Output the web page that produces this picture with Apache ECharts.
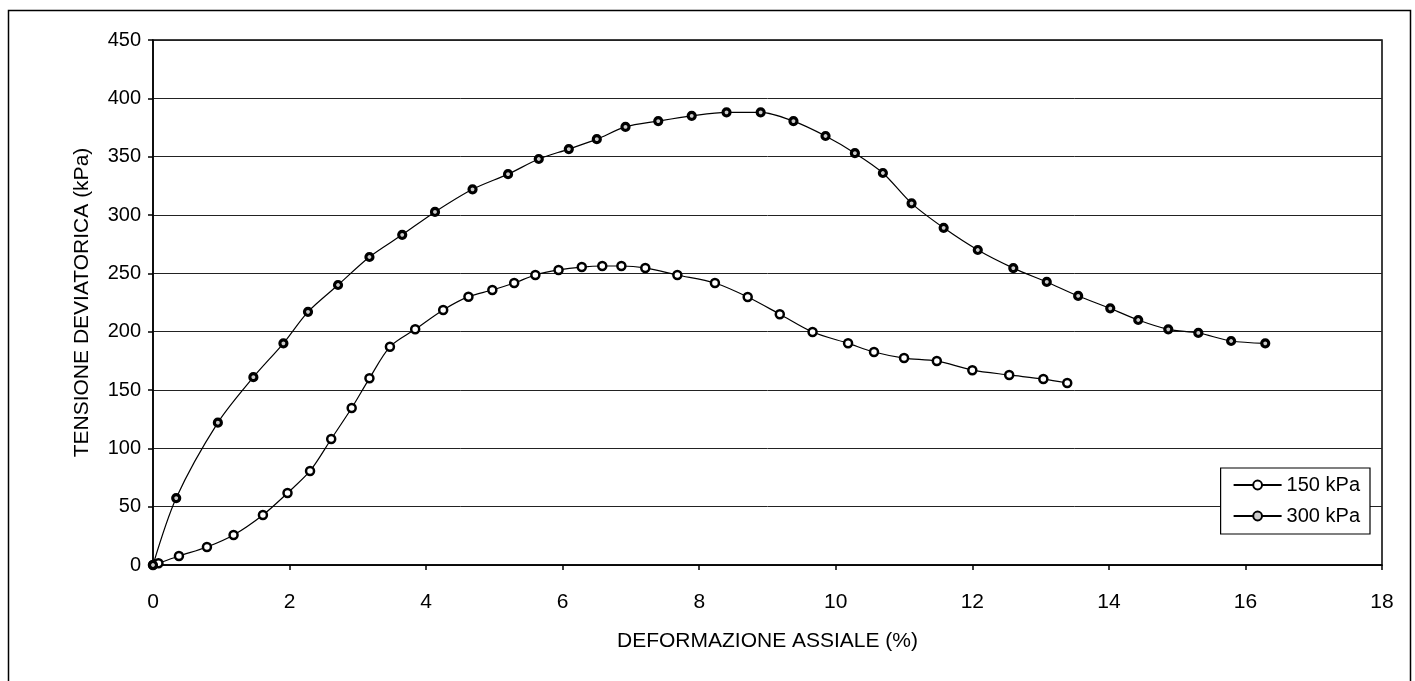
<!DOCTYPE html>
<html>
<head>
<meta charset="utf-8">
<script src="https://cdn.jsdelivr.net/npm/echarts@6/dist/echarts.min.js"></script>
<style>
html,body{margin:0;padding:0;background:#fff;}
#c{width:1415px;height:681px;}
</style>
</head>
<body>
<div id="c"></div>
<script>
// Data
const seriesNames = ['150 kPa', '300 kPa'];
const strain150 = [0, 0.08, 0.38, 0.79, 1.18, 1.61, 1.97, 2.30, 2.61, 2.91, 3.17, 3.47, 3.84, 4.25, 4.62, 4.97, 5.29, 5.60, 5.94, 6.28, 6.58, 6.86, 7.21, 7.68, 8.23, 8.71, 9.18, 9.66, 10.18, 10.56, 11.00, 11.48, 12.00, 12.54, 13.04, 13.39];
const stress150 = [0, 1.5, 7.7, 15.4, 25.7, 42.9, 61.7, 80.6, 108, 134.6, 160, 187, 202, 218.6, 230, 235.7, 241.7, 248.6, 252.9, 255.4, 256.3, 256.3, 254.6, 248.6, 241.7, 229.7, 215, 199.7, 190, 182.6, 177.4, 174.9, 167, 162.9, 159.4, 156];
const strain300 = [0, 0.34, 0.95, 1.47, 1.91, 2.27, 2.71, 3.17, 3.65, 4.13, 4.68, 5.20, 5.65, 6.09, 6.50, 6.92, 7.40, 7.89, 8.40, 8.90, 9.38, 9.85, 10.28, 10.69, 11.11, 11.58, 12.08, 12.60, 13.09, 13.55, 14.02, 14.43, 14.87, 15.31, 15.79, 16.29];
const stress300 = [0, 57.4, 122, 161, 190, 217, 240, 264, 283, 302.6, 322, 335, 348, 356.5, 365, 375.5, 380.5, 385, 388, 388, 380.5, 367.7, 353, 336, 310, 289, 270, 254.5, 242.6, 230.6, 220, 210, 202, 198.9, 192, 190];
const xTicks = [0, 2, 4, 6, 8, 10, 12, 14, 16, 18];
const yTicks = [0, 50, 100, 150, 200, 250, 300, 350, 400, 450];
const xTitle = 'DEFORMAZIONE ASSIALE (%)';
const yTitle = 'TENSIONE DEVIATORICA (kPa)';

const pairs = (xs, ys) => xs.map((x, i) => [x, ys[i]]);
const FONT = 'Liberation Sans, Arial, sans-serif';

const chart = echarts.init(document.getElementById('c'), null, {renderer: 'canvas'});
chart.setOption({
  animation: false,
  backgroundColor: '#fff',
  textStyle: {fontFamily: FONT, color: '#000'},
  graphic: [{
    type: 'rect', shape: {x: 8.5, y: 10.5, width: 1402, height: 700},
    style: {fill: 'none', stroke: '#000', lineWidth: 1.5}, silent: true
  }],
  grid: {left: 153, right: 33, top: 40, bottom: 116, show: true, borderColor: '#000', borderWidth: 1.5, backgroundColor: 'transparent'},
  xAxis: {
    type: 'value', min: xTicks[0], max: xTicks[xTicks.length - 1], interval: 2,
    name: xTitle, nameLocation: 'middle', nameGap: 66,
    nameTextStyle: {fontSize: 21, fontFamily: FONT, color: '#000'},
    axisLine: {show: true, onZero: false, lineStyle: {color: '#000', width: 1.5}},
    axisTick: {show: true, length: 5, inside: false, lineStyle: {color: '#000', width: 1.5}},
    axisLabel: {fontSize: 21, color: '#000', fontFamily: FONT, margin: 27},
    splitLine: {show: false}
  },
  yAxis: {
    type: 'value', min: yTicks[0], max: yTicks[yTicks.length - 1], interval: 50,
    name: yTitle, nameLocation: 'middle', nameGap: 60, nameRotate: 90,
    nameTextStyle: {fontSize: 21, fontFamily: FONT, color: '#000'},
    axisLine: {show: true, lineStyle: {color: '#000', width: 1.5}},
    axisTick: {show: true, length: 5, lineStyle: {color: '#000', width: 1.5}},
    axisLabel: {fontSize: 20, color: '#000', fontFamily: FONT, margin: 12},
    splitLine: {show: true, lineStyle: {color: '#222', width: 1}}
  },
  legend: {
    orient: 'vertical', right: 45, top: 468,
    backgroundColor: '#fff', borderColor: '#000', borderWidth: 1.2,
    padding: [7, 10, 8, 12], itemGap: 11, itemWidth: 48, itemHeight: 11,
    textStyle: {fontSize: 20, fontFamily: FONT, color: '#000'},
    data: seriesNames
  },
  series: [
    {
      name: seriesNames[0], type: 'line', smooth: 0.3,
      data: pairs(strain150, stress150),
      symbol: 'circle', symbolSize: 8,
      lineStyle: {color: '#000', width: 1.2},
      itemStyle: {color: '#fff', borderColor: '#000', borderWidth: 2.5},
      z: 3
    },
    {
      name: seriesNames[1], type: 'line', smooth: 0.3,
      data: pairs(strain300, stress300),
      symbol: 'circle', symbolSize: 7,
      lineStyle: {color: '#000', width: 1.2},
      itemStyle: {color: '#ccc', borderColor: '#000', borderWidth: 3.2},
      z: 3
    }
  ]
});
</script>
</body>
</html>
